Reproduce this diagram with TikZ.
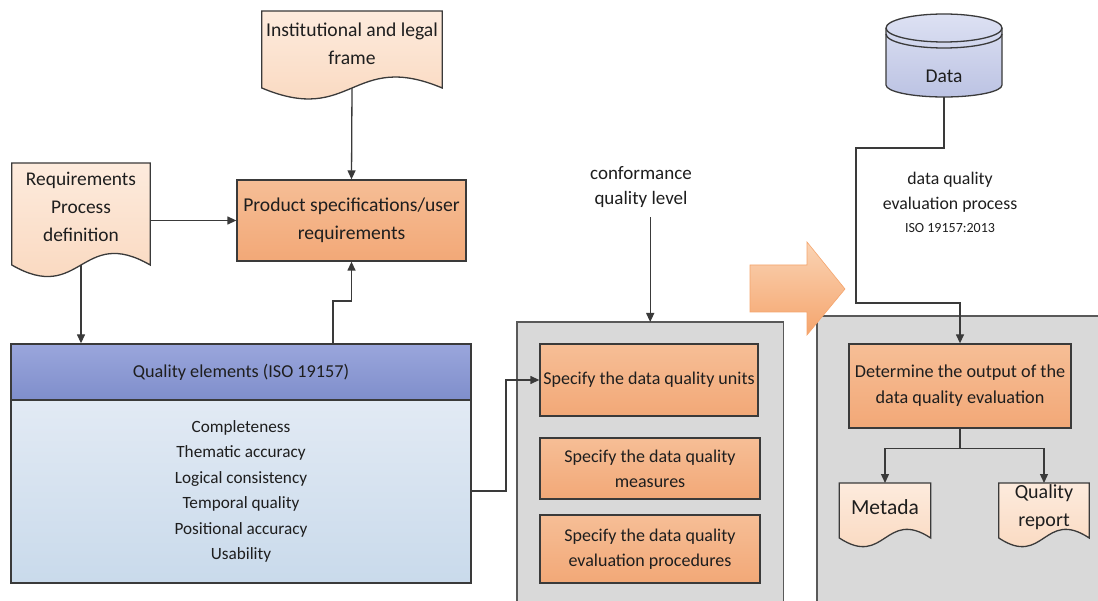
\documentclass[tikz,border=0pt]{standalone}
\usepackage{fontspec}
\setmainfont{Carlito}
\usetikzlibrary{arrows.meta,calc,backgrounds}
\pgfdeclarelayer{bg}
\pgfdeclarelayer{docs}
\pgfsetlayers{bg,docs,main}
\definecolor{txt}{HTML}{1E1E1E}
\definecolor{lncol}{HTML}{3A3A3A}
\definecolor{orT}{HTML}{F6BE96}
\definecolor{orB}{HTML}{F2A877}
\definecolor{docT}{HTML}{FDEBDD}
\definecolor{docB}{HTML}{F9D5BA}
\definecolor{qhT}{HTML}{9AA6DC}
\definecolor{qhB}{HTML}{7F8ECB}
\definecolor{qbT}{HTML}{E2EAF4}
\definecolor{qbB}{HTML}{C9DAEB}
\definecolor{grayfill}{HTML}{D9D9D9}
\definecolor{grayedge}{HTML}{595959}
\definecolor{cylT}{HTML}{DDE1F3}
\definecolor{cylB}{HTML}{BCC3E3}
\definecolor{arrT}{HTML}{FAD3B4}
\definecolor{arrB}{HTML}{F5A56D}
\newcommand{\fsz}[2]{\fontsize{#1}{#2}\selectfont}
\newcommand{\docshape}[4]{%
  \begin{pgfonlayer}{docs}
  \path[docsty] ($(#1.west)+(0,-#2)$) -- ($(#1.east)+(0,-#2)$) -- ($(#1.east)+(0,#3)$)
    .. controls ($(#1.center)+(0,#3-#4)$) and ($(#1.center)+(0,#3+#4)$) .. ($(#1.west)+(0,#3)$) -- cycle;
  \end{pgfonlayer}
  \coordinate (#1-b) at ($(#1.center)+(0,#3)$);
  \coordinate (#1-t) at ($(#1.center)+(0,-#2)$);
}
\tikzset{
  lnk/.style={draw=lncol, line width=1.3pt},
  arr/.style={lnk, -{Triangle[length=9pt,width=8pt]}},
  obox/.style={draw=lncol, line width=1.3pt, top color=orT, bottom color=orB, align=center, inner sep=0pt, text=txt},
  docnode/.style={align=center, inner sep=0pt, text=txt},
  docsty/.style={draw=lncol, line width=1.3pt, top color=docT, bottom color=docB},
  graybox/.style={fill=grayfill, draw=none, inner sep=0pt},
  grayline/.style={draw=grayedge, line width=1.5pt},
  plain/.style={align=center, inner sep=0pt, text=txt},
}
\begin{document}
\begin{tikzpicture}[x=1pt,y=-1pt]
\useasboundingbox (0,0) rectangle (1098,601);
\begin{pgfonlayer}{bg}
\fill[white] (0,0) rectangle (1098,601);
\end{pgfonlayer}

% gray containers
\begin{pgfonlayer}{bg}
\node[graybox, anchor=north west, minimum width=266pt, minimum height=300pt] (gray1) at (517,322) {};
\draw[grayline] (gray1.south west) -- (gray1.north west) -- (gray1.north east) -- (gray1.south east);
\node[graybox, anchor=north west, minimum width=300pt, minimum height=300pt] (gray2) at (817,316) {};
\draw[grayline] (gray2.south west) -- (gray2.north west) -- (gray2.north east);
\end{pgfonlayer}

% documents
\node[docnode, minimum width=180pt, font=\fsz{19.6}{28}] (inst) at (352,44) {Institutional and legal\\frame};
\docshape{inst}{33}{44}{38}
\node[docnode, minimum width=138pt, font=\fsz{19.4}{28}] (req) at (81,207) {Requirements\\Process\\definition};
\docshape{req}{44}{58}{40}
\node[docnode, minimum width=91pt, font=\fsz{21.5}{28}] (meta) at (885,507) {Metada};
\docshape{meta}{24}{31}{30}
\node[docnode, minimum width=90pt, font=\fsz{20}{28}] (qrep) at (1044,507) {Quality\\report};
\docshape{qrep}{24}{31}{30}

% product
\node[obox, minimum width=229pt, minimum height=81pt, font=\fsz{19.6}{28}] (prod) at (351.5,220.5) {Product specifications/user\\requirements};

% quality elements
\node[draw=lncol, line width=1.3pt, top color=qhT, bottom color=qhB, minimum width=460pt, minimum height=56pt, inner sep=0pt, text=txt, font=\fsz{18.2}{22}] (qual) at (241,372) {Quality elements (ISO 19157)};
\node[draw=lncol, line width=1.3pt, top color=qbT, bottom color=qbB, minimum width=460pt, minimum height=183pt, inner sep=0pt, align=center, text=txt, font=\fsz{17.2}{25.4}] (qbody) at (241,491.5) {Completeness\\Thematic accuracy\\Logical consistency\\Temporal quality\\Positional accuracy\\Usability};

% conformance
\node[plain, font=\fsz{19}{25}] (conf) at (641,187.5) {conformance\\quality level};
\node[obox, minimum width=218pt, minimum height=72pt, font=\fsz{18}{25}] (units) at (649,380) {Specify the data quality units};
\node[obox, minimum width=220pt, minimum height=61pt, font=\fsz{18}{25}] (meas) at (650,468.5) {Specify the data quality\\measures};
\node[obox, minimum width=220pt, minimum height=68pt, font=\fsz{18}{25}] (proc) at (650,549) {Specify the data quality\\evaluation procedures};

% data
\begin{pgfonlayer}{docs}
\path[draw=lncol, line width=1.3pt, top color=cylT, bottom color=cylB]
  (886,28) -- (886,85) arc[start angle=180, end angle=360, x radius=58pt, y radius=12pt]
  -- (1002,28) arc[start angle=0, end angle=180, x radius=58pt, y radius=14pt] -- cycle;
\draw[lncol, line width=1.3pt] (886,28) arc[start angle=180, end angle=360, x radius=58pt, y radius=14pt];
\draw[lncol, line width=1.3pt] (886,34) arc[start angle=180, end angle=360, x radius=58pt, y radius=14pt];
\end{pgfonlayer}
\node[plain, minimum width=116pt, minimum height=42pt, font=\fsz{19.5}{24}] (data) at (944,76) {Data};
\node[plain, font=\fsz{17.8}{25}] (dqe) at (950,192.5) {data quality\\evaluation process};
\node[plain, font=\fsz{14}{16}] (iso) at (950,228) {ISO 19157:2013};

\node[obox, minimum width=222pt, minimum height=84pt, font=\fsz{18.2}{26}] (det) at (960,386) {Determine the output of the\\data quality evaluation};

% big arrow
\path[top color=arrT, bottom color=arrB, draw=arrB, line width=0.6pt]
  (750,265) -- (807,265) -- (807,242) -- (845,289) -- (807,335) -- (807,312) -- (750,312) -- cycle;

% connectors
\draw[arr] (inst-b) -- (prod.north);
\draw[arr] (req.east |- prod.west) -- (prod.west);
\draw[arr] (req-b) -- (req-b |- qual.north);
\coordinate (qe) at (333,301);
\draw[arr] (qe |- qual.north) -- (qe) -| (prod.south);
\coordinate (qu) at (506,491);
\draw[arr] (qbody.east |- qu) -- (qu) |- (units.west);
\draw[arr] ([yshift=-9pt]gray1.north |- conf.south) -- (gray1.north);
\coordinate (d1) at (856,148);
\coordinate (d2) at (856,303);
\draw[arr] (data.south) |- (d1) -- (d2) -| (det.north);
\coordinate (sp) at ($(det.south)+(0,20)$);
\draw[lnk] (det.south) -- (sp);
\draw[arr] (sp) -| (meta-t);
\draw[arr] (sp) -| (qrep-t);
\end{tikzpicture}
\end{document}
